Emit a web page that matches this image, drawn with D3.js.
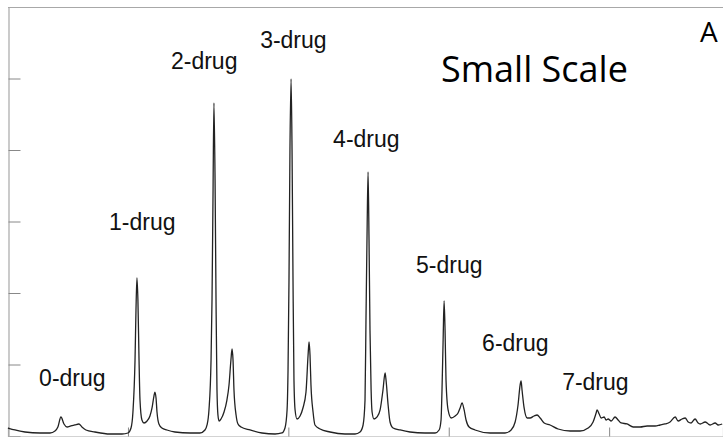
<!DOCTYPE html>
<html>
<head>
<meta charset="utf-8">
<script src="https://cdn.jsdelivr.net/npm/d3@7"></script>
<style>
html, body { margin: 0; padding: 0; background: #fff; }
svg { display: block; }
</style>
</head>
<body>
<svg id="chart" width="723" height="437"></svg>
<script>
// Retention time (arbitrary units) and detector signal
const time = [2.52,2.95,3.58,4.51,5.14,5.45,5.63,5.82,6.01,6.20,6.44,6.69,6.94,7.13,7.38,7.94,8.88,9.63,10.00,
  10.19,10.31,10.44,10.50,10.56,10.62,10.69,10.75,10.87,11.00,11.19,11.37,11.50,11.62,11.68,11.75,11.81,11.93,12.12,12.43,12.93,13.87,
  14.49,14.80,14.93,15.05,15.18,15.24,15.30,15.36,15.43,15.49,15.55,15.61,15.68,15.80,15.99,16.17,16.30,16.42,16.49,16.55,16.61,16.74,16.86,17.05,17.61,18.36,19.17,
  19.60,19.79,19.92,19.98,20.04,20.10,20.17,20.23,20.29,20.35,20.42,20.54,20.73,20.91,21.10,21.23,21.29,21.35,21.41,21.54,21.66,21.98,22.60,23.53,
  24.16,24.47,24.66,24.78,24.84,24.91,24.97,25.03,25.09,25.16,25.22,25.34,25.53,25.72,25.90,26.03,26.09,26.22,26.34,26.53,26.97,27.59,28.52,
  29.15,29.40,29.52,29.58,29.65,29.71,29.77,29.83,29.96,30.15,30.40,30.58,30.71,30.83,30.96,31.08,31.27,31.64,32.58,
  33.51,33.89,34.14,34.32,34.45,34.51,34.57,34.70,34.89,35.07,35.32,35.51,35.70,35.95,36.32,36.82,37.57,
  38.19,38.69,39.00,39.19,39.25,39.38,39.50,39.69,39.81,39.94,40.13,40.37,40.56,40.75,41.12,41.50,41.93,42.37,42.87,
  43.18,43.49,43.80,44.12,44.30,44.55,44.74,44.93,45.11,45.36,45.55,45.68,45.99,46.18,46.30,46.61,46.80,47.05];
const signal = [0.112,0.084,0.056,0.042,0.042,0.070,0.126,0.266,0.168,0.126,0.140,0.154,0.168,0.126,0.084,0.056,0.028,0.028,0.042,
  0.112,0.336,1.063,1.762,2.210,1.902,1.063,0.503,0.224,0.182,0.210,0.280,0.392,0.559,0.615,0.531,0.336,0.168,0.112,0.084,0.056,0.042,
  0.042,0.084,0.154,0.364,1.063,1.902,3.301,4.657,3.580,1.902,0.643,0.294,0.210,0.238,0.336,0.503,0.713,1.063,1.217,1.063,0.643,0.294,0.168,0.126,0.084,0.042,0.028,
  0.042,0.112,0.364,0.923,2.182,4.000,4.993,4.000,2.182,0.783,0.364,0.238,0.280,0.392,0.615,1.133,1.315,1.133,0.713,0.336,0.154,0.098,0.056,0.028,
  0.028,0.056,0.154,0.503,1.622,2.881,3.692,2.741,1.483,0.643,0.336,0.238,0.266,0.364,0.643,0.881,0.783,0.434,0.196,0.112,0.084,0.056,0.042,
  0.042,0.084,0.224,0.643,1.343,1.888,1.483,0.783,0.364,0.252,0.280,0.322,0.392,0.462,0.364,0.224,0.126,0.084,0.042,
  0.042,0.084,0.196,0.434,0.713,0.769,0.643,0.392,0.252,0.252,0.280,0.294,0.252,0.182,0.154,0.098,0.070,
  0.070,0.112,0.196,0.322,0.364,0.308,0.252,0.266,0.224,0.238,0.210,0.266,0.224,0.182,0.168,0.126,0.126,0.140,0.140,
  0.154,0.168,0.196,0.266,0.210,0.238,0.252,0.196,0.182,0.238,0.182,0.168,0.196,0.168,0.154,0.182,0.154,0.168];

// Peak labels: text, anchor time, anchor signal
const peakLabels = ["0-drug","1-drug","2-drug","3-drug","4-drug","5-drug","6-drug","7-drug"];
const labelTime  = [4.46, 8.82, 12.68, 18.24, 22.79, 27.96, 32.08, 37.07];
const labelSignal = [0.699, 2.881, 5.133, 5.427, 4.042, 2.280, 1.189, 0.643];

const yTicks = [1, 2, 3, 4, 5];
const xTicks = [10, 20, 30, 40];
const titleText = "Small Scale";
const panelText = "A";

const svg = d3.select("#chart");
const mLeft = 8, mTop = 7, mRight = 723, mBottom = 436;

const x = d3.scaleLinear().domain([2.52, 47.1]).range([mLeft, mRight]);
const y = d3.scaleLinear().domain([0, 6]).range([mBottom, mTop]);

// frame line on top
svg.append("line").attr("x1", mLeft).attr("x2", mRight + 2).attr("y1", mTop + 0.5).attr("y2", mTop + 0.5)
  .attr("stroke", "#a8a8a8").attr("stroke-width", 1.2);

// left axis with inward ticks
const yAxis = d3.axisRight(y).tickValues(yTicks).tickSize(12).tickFormat("");
const gy = svg.append("g").attr("transform", `translate(${mLeft + 0.5},0)`).call(yAxis);
gy.select(".domain").attr("stroke", "#a8a8a8").attr("stroke-width", 1.2);
gy.selectAll(".tick line").attr("stroke", "#888").attr("stroke-width", 1);

// bottom axis with inward ticks
const xAxis = d3.axisTop(x).tickValues(xTicks).tickSize(9).tickFormat("");
const gx = svg.append("g").attr("transform", `translate(0,${mBottom + 0.5})`).call(xAxis);
gx.select(".domain").attr("stroke", "#a8a8a8").attr("stroke-width", 1.2);
gx.selectAll(".tick line").attr("stroke", "#888").attr("stroke-width", 1);

// trace
const pts = time.map((t, i) => [t, signal[i]]);
const line = d3.line().x(d => x(d[0])).y(d => y(d[1])).curve(d3.curveMonotoneX);
svg.append("path").datum(pts).attr("d", line)
  .attr("fill", "none").attr("stroke", "#222").attr("stroke-width", 1.3).attr("stroke-linejoin", "round");

// peak labels
svg.selectAll("text.peak").data(peakLabels).join("text")
  .attr("class", "peak")
  .attr("x", (d, i) => x(labelTime[i]))
  .attr("y", (d, i) => y(labelSignal[i]))
  .attr("font-family", "'Liberation Sans', Arial, sans-serif")
  .attr("font-size", 23)
  .attr("fill", "#111")
  .text(d => d);

svg.append("text").attr("x", 441).attr("y", 82)
  .attr("font-family", "'Open Sans', sans-serif").attr("font-size", 36).attr("fill", "#000")
  .text(titleText);
svg.append("text").attr("x", 700).attr("y", 42)
  .attr("font-family", "'Open Sans', sans-serif").attr("font-size", 28).attr("fill", "#000")
  .text(panelText);
</script>
</body>
</html>
